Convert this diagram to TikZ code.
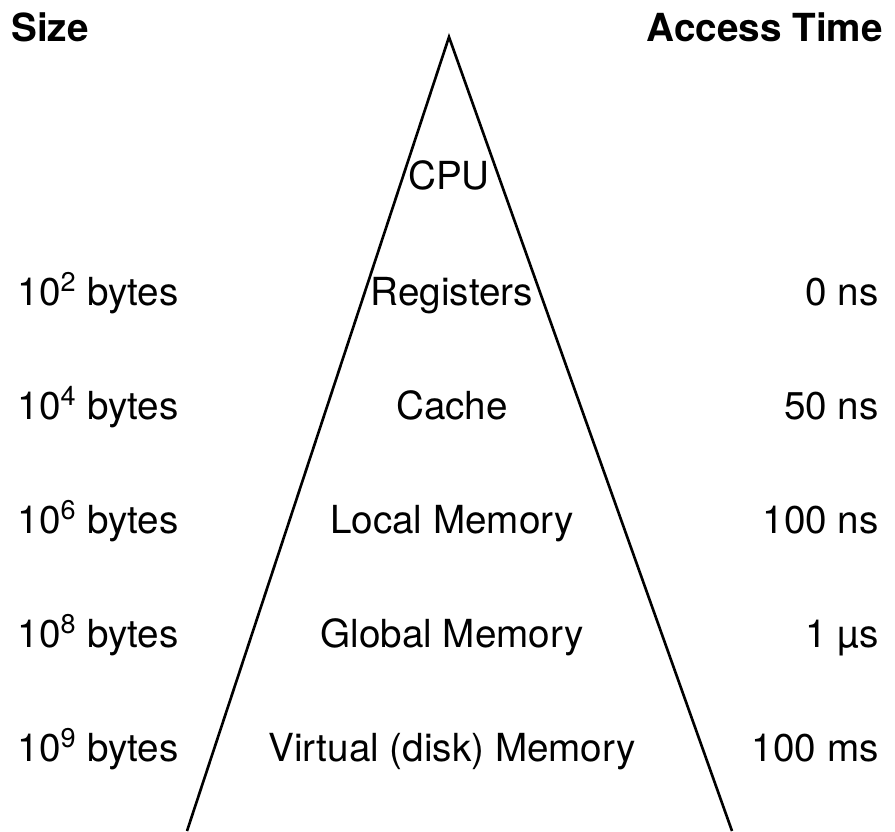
\documentclass[tikz,border=0pt]{standalone}
\usepackage{fontspec}
\setmainfont{TeX Gyre Heros}

\begin{document}
\begin{tikzpicture}[x=0.02cm, y=-0.02cm, every node/.style={font=\fontsize{22}{26}\selectfont, inner sep=0pt}]
  % -----------------------------
  % SETTINGS
  % -----------------------------
  \def\ytop{305}  % baseline of the first level (Registers)
  \def\dy{114}    % spacing between levels

  % -----------------------------
  % STYLES
  % -----------------------------
  \tikzset{
    lvl/.style={anchor=base},
    szlab/.style={anchor=base},
    tmlab/.style={anchor=base east},
    head/.style={font=\fontsize{22}{26}\selectfont\bfseries},
    side/.style={line width=1.5pt},
  }

  \useasboundingbox (0,0) rectangle (895,831);

  % -----------------------------
  % PYRAMID (two sides, open at the bottom)
  % -----------------------------
  \coordinate (apex)  at (449,37);
  \coordinate (baseL) at (187,831);
  \coordinate (baseR) at (732,831);
  \draw[side] (baseL) -- (apex) -- (baseR);

  % Column headings
  \node[head, anchor=base west] (size) at (11,42)  {Size};
  \node[head, anchor=base east] (acc)  at (883,42) {Access Time};

  % -----------------------------
  % LEVELS + SIZE + ACCESS TIME
  % -----------------------------
  \node[lvl] (cpu) at (449,190) {CPU};

  \foreach \name/\e/\t [count=\k from 0] in {Registers/2/0 ns, Cache/4/50 ns,
      Local Memory/6/100 ns, Global Memory/8/1 µs, Virtual (disk) Memory/9/100 ms} {
    \pgfmathsetmacro{\y}{\ytop+\k*\dy}
    \node[lvl]   (L\k) at (452,\y) {\name};
    \node[szlab] (S\k) at (98,\y)  {10\textsuperscript{\e} bytes};
    \node[tmlab] (T\k) at (879,\y) {\t};
  }
\end{tikzpicture}
\end{document}
